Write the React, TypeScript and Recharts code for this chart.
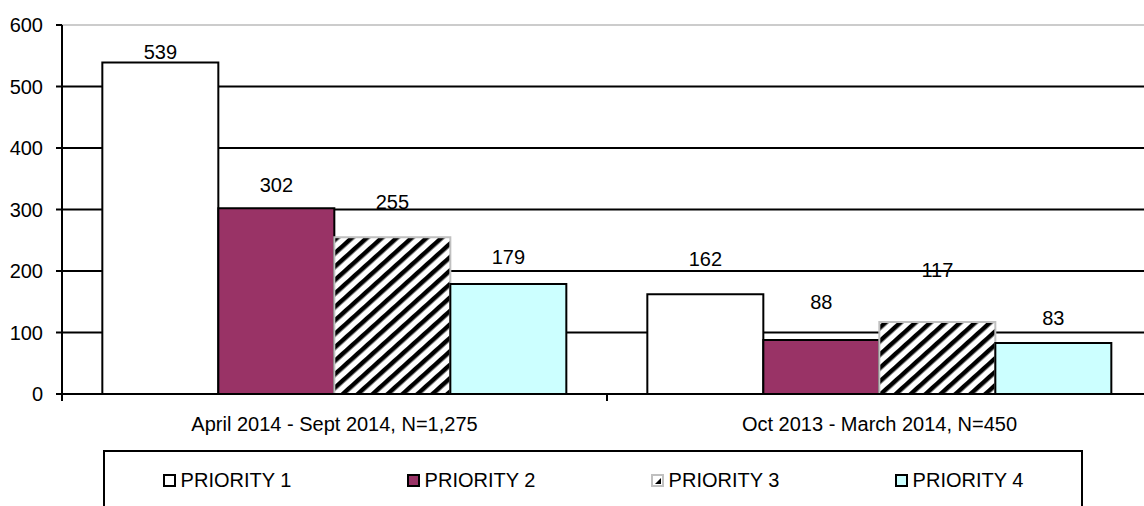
import React from 'react';
import { BarChart, Bar, XAxis, YAxis, CartesianGrid, LabelList } from 'recharts';

const categories = ['April 2014 - Sept 2014, N=1,275', 'Oct 2013 - March 2014, N=450'];
const priority1 = [539, 162];
const priority2 = [302, 88];
const priority3 = [255, 117];
const priority4 = [179, 83];
const seriesNames = ['PRIORITY 1', 'PRIORITY 2', 'PRIORITY 3', 'PRIORITY 4'];
const yTicks = [0, 100, 200, 300, 400, 500, 600];

// label lift above bar top (style)
const labelLift = [
  [11, 35],
  [23, 38],
  [35, 52],
  [27, 25],
];

const data = categories.map((c, i) => ({
  category: c,
  p1: priority1[i],
  p2: priority2[i],
  p3: priority3[i],
  p4: priority4[i],
}));

const FONT = '"Liberation Sans", Arial, sans-serif';
const MARGIN = { top: 25, right: 0, bottom: 0, left: 0 };

const seriesStyle = [
  { key: 'p1', fill: '#ffffff', stroke: '#000000' },
  { key: 'p2', fill: '#993366', stroke: '#000000' },
  { key: 'p3', fill: 'url(#hatch)', stroke: '#c0c0c0' },
  { key: 'p4', fill: '#ccffff', stroke: '#000000' },
];

const makeLabel = (si: number) => (props: any) => {
  const { x, y, width, value, index } = props;
  const lift = labelLift[si][index] ?? 10;
  return (
    <text
      x={Number(x) + Number(width) / 2}
      y={Number(y) - lift}
      textAnchor="middle"
      dominantBaseline="central"
      fontFamily={FONT}
      fontSize={20}
      fill="#000"
    >
      {value}
    </text>
  );
};

const XTick = (props: any) => {
  const { x, y, payload, index, visibleTicksCount } = props;
  const half = payload && payload.offset != null ? payload.offset : 272;
  const last = index === (visibleTicksCount ?? 2) - 1;
  return (
    <g>
      <line x1={x - half} y1={y} x2={x - half} y2={y + 7} stroke="#000" strokeWidth={2} />
      {last && <line x1={x + half} y1={y} x2={x + half} y2={y + 7} stroke="#000" strokeWidth={2} />}
      <text x={x} y={y + 37} textAnchor="middle" fontFamily={FONT} fontSize={20} fill="#000">
        {payload.value}
      </text>
    </g>
  );
};

const GridLine = (p: any) => {
  const top = Math.abs(Number(p.y1) - MARGIN.top) < 1;
  return (
    <line
      key={p.key}
      x1={p.x1}
      y1={p.y1}
      x2={p.x2}
      y2={p.y2}
      stroke={top ? '#cccccc' : '#000'}
      strokeWidth={2}
    />
  );
};

const LegendIcon = ({ i }: { i: number }) => {
  const s = seriesStyle[i];
  if (i === 2) {
    return (
      <svg width={13} height={13} style={{ display: 'block' }}>
        <rect x={1} y={1} width={11} height={11} fill="#fff" stroke="#c0c0c0" strokeWidth={2} />
        <polygon points="4,10 10,4 10,10" fill="#000" />
      </svg>
    );
  }
  return (
    <svg width={13} height={13} style={{ display: 'block' }}>
      <rect x={1} y={1} width={11} height={11} fill={s.fill} stroke="#000" strokeWidth={2} />
    </svg>
  );
};

export default function App() {
  return (
    <div style={{ position: 'absolute', left: 0, top: 0, width: 1144, height: 506, overflow: 'hidden', fontFamily: FONT, background: '#fff' }}>
      <BarChart
        width={1152}
        height={506}
        data={data}
        margin={MARGIN}
        barCategoryGap="7.4%"
        barGap={0}
      >
        <defs>
          <pattern id="hatch" patternUnits="userSpaceOnUse" width={10} height={10} patternTransform="rotate(48)">
            <rect x={0} y={0} width={10} height={10} fill="#fff" />
            <rect x={0} y={0} width={4.5} height={10} fill="#000" />
          </pattern>
        </defs>
        <CartesianGrid vertical={false} horizontal={GridLine as any} />
        <XAxis
          dataKey="category"
          height={112}
          tickSize={0}
          tickMargin={0}
          tickLine={false}
          axisLine={{ stroke: '#000', strokeWidth: 2 }}
          tick={<XTick />}
          interval={0}
        />
        <YAxis
          width={62}
          domain={[0, 600]}
          ticks={yTicks}
          tickSize={6}
          tickMargin={13}
          tickLine={{ stroke: '#000', strokeWidth: 2 }}
          axisLine={{ stroke: '#000', strokeWidth: 2 }}
          tick={{ fill: '#000', fontSize: 20, fontFamily: FONT }}
          allowDecimals={false}
        />
        {seriesStyle.map((s, si) => (
          <Bar
            key={s.key}
            dataKey={s.key}
            name={seriesNames[si]}
            fill={s.fill}
            stroke={s.stroke}
            strokeWidth={2}
            isAnimationActive={false}
          >
            <LabelList dataKey={s.key} content={makeLabel(si) as any} />
          </Bar>
        ))}
      </BarChart>
      <div
        style={{
          position: 'absolute',
          left: 103,
          top: 450,
          width: 980,
          height: 90,
          boxSizing: 'border-box',
          border: '2px solid #000',
          background: '#fff',
          display: 'flex',
          paddingTop: 16,
        }}
      >
        {seriesNames.map((n, i) => (
          <div key={n} style={{ flex: 1, display: 'flex', justifyContent: 'center', alignItems: 'center', height: 24 }}>
            <LegendIcon i={i} />
            <span style={{ marginLeft: 5, fontSize: 20, lineHeight: '24px', color: '#000' }}>{n}</span>
          </div>
        ))}
      </div>
    </div>
  );
}
